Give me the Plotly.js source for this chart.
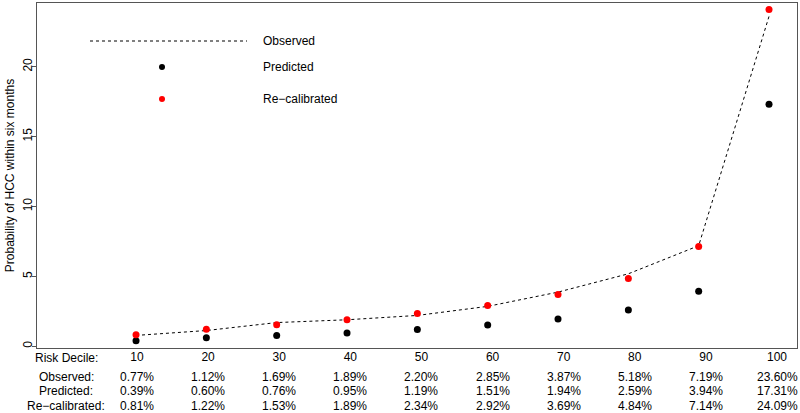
<!DOCTYPE html>
<html><head><meta charset="utf-8">
<script src="https://cdn.plot.ly/plotly-3.0.1.min.js"></script>
<style>html,body{margin:0;padding:0;background:#fff}#chart{width:800px;height:413px}</style>
</head><body><div id="chart"></div>
<script>
const deciles = [10,20,30,40,50,60,70,80,90,100];
const observed = [0.77,1.12,1.69,1.89,2.20,2.85,3.87,5.18,7.19,23.60];
const predicted = [0.39,0.60,0.76,0.95,1.19,1.51,1.94,2.59,3.94,17.31];
const recalibrated = [0.81,1.22,1.53,1.89,2.34,2.92,3.69,4.84,7.14,24.09];
const rowLabels = ["Risk Decile:", "Observed:", "Predicted:", "Re\u2212calibrated:"];
const legendLabels = ["Observed", "Predicted", "Re\u2212calibrated"];

const font = {family: "Liberation Sans, Arial, sans-serif", size: 12, color: "#000"};
const pct = v => v.toFixed(2) + "%";

const traces = [
  {x: deciles, y: observed, type: "scatter", mode: "lines", line: {color: "#000", width: 1, dash: "3px,3px"}, hoverinfo: "skip"},
  {x: deciles, y: predicted, type: "scatter", mode: "markers", marker: {color: "#000", size: 7}},
  {x: deciles, y: recalibrated, type: "scatter", mode: "markers", marker: {color: "#ff0000", size: 7}},
  // invisible carrier so the table axis (x2) is drawn
  {x: deciles, y: observed, xaxis: "x2", type: "scatter", mode: "none", hoverinfo: "skip", showlegend: false}
];

// pixel -> paper helpers (plot area 37..797 x, 3..348 y)
const L = 37, R = 797, T = 3, B = 348;
const px = x => (x - L) / (R - L);
const py = y => (B - y) / (B - T);

const annotations = [];
const rowY = [358, 377, 391, 405.5];
rowLabels.forEach((t, i) => {
  annotations.push({xref: "paper", yref: "paper", x: px(66), y: py(rowY[i]), text: t, showarrow: false, xanchor: "center", yanchor: "middle", font});
});
[observed, predicted, recalibrated].forEach((arr, r) => {
  arr.forEach((v, i) => {
    annotations.push({xref: "x2", yref: "paper", x: deciles[i], y: py(rowY[r + 1]), text: pct(v), showarrow: false, xanchor: "center", yanchor: "middle", font});
  });
});
// legend texts
const legY = [41, 67, 99];
legendLabels.forEach((t, i) => {
  annotations.push({xref: "paper", yref: "paper", x: px(261), y: py(legY[i]), text: t, showarrow: false, xanchor: "left", yanchor: "middle", font});
});

const shapes = [
  {type: "line", xref: "paper", yref: "paper", x0: px(90), x1: px(247), y0: py(41), y1: py(41), line: {color: "#000", width: 1, dash: "3px,3px"}},
  {type: "circle", xref: "paper", yref: "paper", xsizemode: "pixel", ysizemode: "pixel", xanchor: px(162), yanchor: py(67), x0: -3, x1: 3, y0: -3, y1: 3, fillcolor: "#000", line: {width: 0}},
  {type: "circle", xref: "paper", yref: "paper", xsizemode: "pixel", ysizemode: "pixel", xanchor: px(162), yanchor: py(99), x0: -3, x1: 3, y0: -3, y1: 3, fillcolor: "#ff0000", line: {width: 0}}
];

const layout = {
  width: 800, height: 413,
  margin: {l: L, r: 800 - R, t: T, b: 413 - B, pad: 0},
  paper_bgcolor: "#fff", plot_bgcolor: "#fff",
  showlegend: false,
  font,
  xaxis: {range: [-4.08, 103.98], showticklabels: false, ticks: "", showgrid: false, zeroline: false,
          showline: true, linecolor: "#555", linewidth: 1, mirror: true},
  xaxis2: {overlaying: "x", side: "bottom", range: [-4.06, 102.81], tickvals: deciles, ticktext: deciles.map(String),
           ticks: "", showgrid: false, zeroline: false, showline: false, tickfont: font},
  yaxis: {range: [-0.13, 24.56], tickvals: [0,5,10,15,20], ticks: "outside", ticklen: 4, tickcolor: "#555", tickangle: -90,
          ticklabelstandoff: -5,
          showgrid: false, zeroline: false, showline: true, linecolor: "#555", linewidth: 1, mirror: true, tickfont: font,
          title: {text: "Probability of HCC within six months", font, standoff: 4}},
  annotations, shapes
};
Plotly.newPlot("chart", traces, layout, {staticPlot: true, displayModeBar: false});
</script></body></html>
